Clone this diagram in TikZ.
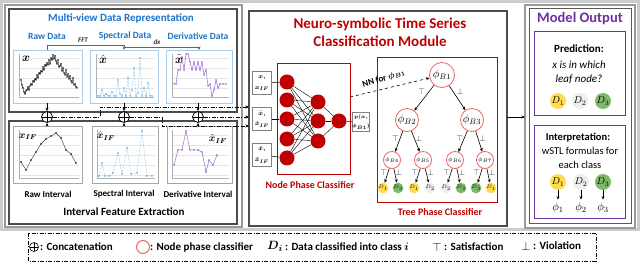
\documentclass[tikz,border=0pt]{standalone}
\usepackage{fontspec}
\setmainfont{Carlito}
\usepackage{amsmath}
\usepackage{bm}
\usetikzlibrary{arrows.meta}
\definecolor{mvblue}{RGB}{31,117,200}
\definecolor{mvbluel}{RGB}{170,205,235}
\definecolor{specblue}{RGB}{90,170,225}
\definecolor{derpurple}{RGB}{160,110,210}
\definecolor{dred}{RGB}{192,0,0}
\definecolor{nred}{RGB}{190,0,0}
\definecolor{tred}{RGB}{240,100,100}
\definecolor{mpurple}{RGB}{112,48,160}
\definecolor{dyellow}{RGB}{255,220,80}
\definecolor{dgreen}{RGB}{125,185,105}
\definecolor{dgray}{RGB}{238,238,238}
\begin{document}
\begin{tikzpicture}[x=1pt,y=-1pt,
  panel/.style={draw=black!70, line width=1.3pt},
  chartbox/.style={draw=mvbluel, line width=0.7pt, fill=white},
  ichartbox/.style={draw=black!35, line width=0.8pt, fill=white},
  grid/.style={draw=black!10, line width=0.3pt},
  concat/.style={circle, draw, line width=0.8pt, minimum size=11pt, inner sep=0pt,
    path picture={\draw[line width=0.8pt] (path picture bounding box.north) -- (path picture bounding box.south)
      (path picture bounding box.west) -- (path picture bounding box.east);}},
  dd/.style={line width=0.7pt, dash pattern=on 4pt off 1.5pt on 1pt off 1.5pt},
  arr/.style={-{Stealth[length=3.5pt,width=3pt]}},
  neuron/.style={circle, fill=nred, minimum size=15pt, inner sep=0pt},
  inbox/.style={draw=black!50, line width=0.6pt, fill=white, minimum width=19pt, minimum height=23pt, inner sep=0pt},
  intext/.style={font=\fontsize{6.5}{7}\selectfont, inner sep=0pt},
  tnode/.style={circle, draw=tred, line width=0.8pt, fill=white, inner sep=0pt},
  leaf/.style={circle, minimum size=9pt, inner sep=0pt, font=\fontsize{5}{5}\selectfont},
  lab/.style={font=\fontsize{8}{8}\selectfont, text=black!80, inner sep=1pt},
  blueh/.style={text=mvblue, font=\bfseries\fontsize{9.5}{10}\selectfont},
  ilabel/.style={font=\bfseries\fontsize{9}{10}\selectfont},
  legt/.style={font=\bfseries\fontsize{11}{12}\selectfont, anchor=west, inner sep=1pt}
]
\useasboundingbox (0,0) rectangle (640,264);
\fill[white] (0,0) rectangle (640,264);
% frames
\draw[black!20, line width=2.5pt] (1.5,1.5) rectangle (638.5,229.5);
\draw[black!40, line width=1.2pt] (5,5) rectangle (242,227);
\draw[panel] (9,9) rectangle (237,112);
\draw[panel] (9,121) rectangle (237,224);
\draw[panel] (249,11) rectangle (507,226);
\draw[black!40, line width=1.5pt] (525,5) rectangle (635,228);
\draw[black!65, line width=1pt] (529,9) rectangle (631,224);

% ---------- Multi-view ----------
\node[text=mvblue, font=\bfseries\fontsize{11}{12}\selectfont] (mvt) at (121,19) {Multi-view Data Representation};
\node[blueh] (rawt) at (47,36) {Raw Data};
\node[blueh] (spt) at (125,36) {Spectral Data};
\node[blueh] (dert) at (198,36) {Derivative Data};
\node[font=\itshape\bfseries\fontsize{7}{7}\selectfont, text=black!80] (fft) at (83,40) {FFT};
\node[font=\itshape\bfseries\fontsize{7}{7}\selectfont, text=black!80] (dxl) at (157,42) {dx};

% charts
\draw[chartbox] (13,50) rectangle (82,103);
\draw[chartbox] (90,50) rectangle (158,103);
\draw[chartbox] (166,50) rectangle (232,103);
\coordinate (rawtop) at (47,50);
\coordinate (sptop) at (124,50);
\coordinate (dertop) at (199,50);
\draw[black!60, line width=0.6pt] (47,50) -- (47,45) -- (124,45);
\draw[black!60, line width=0.6pt, arr] (124,45) -- (sptop);
\draw[black!60, line width=0.6pt] (125,47) -- (199,47);
\draw[black!60, line width=0.6pt, arr] (199,47) -- (dertop);

\foreach \y in {58,68,78,88} {\draw[grid] (19,\y) -- (79,\y); \draw[grid] (96,\y) -- (154,\y); \draw[grid] (172,\y) -- (229,\y);}
\draw[black!30, line width=0.3pt] (19,54) -- (19,97) -- (79,97);
\draw[black!30, line width=0.3pt] (96,54) -- (96,97) -- (154,97);
\draw[black!30, line width=0.3pt] (172,54) -- (172,97) -- (229,97);
\draw[black, line width=0.35pt, mark=*, mark size=0.5pt] plot coordinates {(21,80)(22,85)(23,88)(24,92)(25,94)(26,91)(27,90)(28,87)(29,90)(30,86)(31,84)(32,85)(33,81)(34,82)(35,79)(36,80)(37,75)(38,78)(39,73)(40,74)(41,71)(42,72)(43,67)(44,70)(45,65)(46,66)(47,63)(48,65)(49,60)(50,64)(51,58)(52,60)(53,55)(54,59)(55,56)(56,61)(57,64)(58,60)(59,67)(60,66)(61,64)(62,71)(63,68)(64,73)(65,75)(66,70)(67,77)(68,74)(69,79)(70,76)(71,81)(72,83)(73,78)(74,85)(75,84)(76,87)(77,88)};
\draw[specblue, line width=0.5pt, densely dotted, mark=*, mark size=0.4pt, mark options={solid}] plot coordinates {(98,96)(100,96)(102,90)(104,96)(106,94)(108,96)(110,96)(112,92)(114,96)(116,96)(118,80)(120,94)(122,96)(124,88)(126,96)(128,78)(130,96)(132,90)(134,68)(136,96)(138,93)(140,58)(142,96)(144,88)(146,96)(148,83)(150,96)(152,96)};
\draw[derpurple, line width=0.5pt, mark=*, mark size=0.4pt] plot coordinates {(174,84)(176,84)(178,70)(180,70)(182,57)(184,70)(186,54)(188,54)(190,62)(192,70)(194,62)(196,70)(198,62)(200,70)(202,62)(204,75)(206,70)(208,86)(210,84)(212,96)(214,90)(216,80)(218,88)(220,84)(223,84)(226,84)};
\node[font=\fontsize{13}{13}\selectfont] (xl) at (26,59) {$\bm{x}$};
\node[font=\fontsize{13}{13}\selectfont] (xhl) at (103,59) {$\bm{\hat{x}}$};
\node[font=\fontsize{13}{13}\selectfont] (xtl) at (179,59) {$\bm{\tilde{x}}$};

% ---------- Interval ----------
\draw[ichartbox] (13,126) rectangle (82,183);
\draw[ichartbox] (92,126) rectangle (158,183);
\draw[ichartbox] (167,126) rectangle (232,183);
\foreach \y in {135,145,155,165,175} {\draw[grid] (19,\y) -- (79,\y); \draw[grid] (97,\y) -- (155,\y); \draw[grid] (172,\y) -- (229,\y);}
\draw[black!30, line width=0.3pt] (19,130) -- (19,178) -- (79,178);
\draw[black!30, line width=0.3pt] (97,130) -- (97,178) -- (155,178);
\draw[black!30, line width=0.3pt] (172,130) -- (172,178) -- (229,178);
\draw[black!80, line width=0.4pt, mark=*, mark size=0.6pt] plot coordinates {(21,162)(26,170)(31,160)(36,152)(41,144)(46,139)(51,136)(56,133)(61,138)(66,150)(71,154)(76,163)};
\draw[specblue, line width=0.5pt, densely dotted, mark=*, mark size=0.5pt, mark options={solid}] plot coordinates {(99,176)(102,163)(105,176)(109,176)(113,173)(118,153)(122,174)(127,148)(131,174)(137,173)(142,131)(147,176)(152,176)};
\draw[derpurple, line width=0.5pt, mark=*, mark size=0.5pt] plot coordinates {(174,165)(178,150)(182,150)(186,131)(190,150)(194,150)(198,150)(202,152)(206,172)(209,160)(213,165)(217,155)};
\node[font=\fontsize{10}{10}\selectfont] (xif) at (28,137) {$\bm{x_{IF}}$};
\node[font=\fontsize{10}{10}\selectfont] (xhif) at (106,136) {$\bm{\hat{x}_{IF}}$};
\node[font=\fontsize{10}{10}\selectfont] (xtif) at (218,139) {$\bm{\tilde{x}_{IF}}$};
\node[ilabel] (rit) at (48,194) {Raw Interval};
\node[ilabel] (sit) at (124,194) {Spectral Interval};
\node[ilabel] (dit) at (198,194) {Derivative Interval};
\node[font=\bfseries\fontsize{11}{12}\selectfont] (ifet) at (124,212) {Interval Feature Extraction};

% ---------- concatenation ----------
\node[concat, fill=white] (c1) at (47,117) {};
\node[concat, fill=white] (c2) at (124,117) {};
\node[concat, fill=white] (c3) at (198,117) {};
\draw[arr, line width=0.6pt] (47,103) -- (c1);
\draw[arr, line width=0.6pt] (124,103) -- (c2);
\draw[arr, line width=0.6pt] (198,103) -- (c3);
\draw[arr, line width=0.6pt] (47,126) -- (c1);
\draw[arr, line width=0.6pt] (124,126) -- (c2);
\draw[arr, line width=0.6pt] (198,126) -- (c3);
\coordinate (in1) at (249,107);
\coordinate (in2) at (249,117);
\coordinate (in3) at (249,126);
\draw[dd, arr] (c1) -- (100,117) -- (100,107) -- (in1);
\draw[dd, arr] (c3) -- (in2);
\draw[dd, arr] (c2) -- (162,117) -- (162,126) -- (in3);

% ---------- Middle ----------
\node[text=dred, font=\bfseries\fontsize{15}{18}\selectfont, align=center] (mt) at (380,32) {Neuro-symbolic Time Series\\Classification Module};
\draw[dred, line width=0.8pt] (277,63) rectangle (350,174);
\node[text=dred, font=\bfseries\fontsize{10}{11}\selectfont] (npc) at (310,185) {Node Phase Classifier};
\node[inbox] (ib1) at (262,83) {};
\node[intext] (ib1a) at (262,78) {$\bm{x,}$};
\node[intext] (ib1b) at (262,88.5) {$\bm{x_{IF}}$};
\node[inbox] (ib2) at (262,119) {};
\node[intext] (ib2a) at (262,113.5) {$\bm{\hat{x},}$};
\node[intext] (ib2b) at (262,124.5) {$\bm{\hat{x}_{IF}}$};
\node[inbox] (ib3) at (262,155) {};
\node[intext] (ib3a) at (262,149.5) {$\bm{\tilde{x},}$};
\node[intext] (ib3b) at (262,160.5) {$\bm{\tilde{x}_{IF}}$};
\node[neuron] (n11) at (287,82) {};
\node[neuron] (n12) at (287,100) {};
\node[neuron] (n13) at (287,119) {};
\node[neuron] (n14) at (287,139) {};
\node[neuron] (n15) at (287,158) {};
\node[neuron] (n21) at (318,102) {};
\node[neuron] (n22) at (318,121) {};
\node[neuron] (n23) at (318,141) {};
\node[neuron] (n31) at (339,121) {};
\foreach \i in {1,...,5} {\foreach \j in {1,2,3} {\draw[line width=0.4pt] (n1\i) -- (n2\j);}}
\foreach \j in {1,2,3} {\draw[line width=0.4pt] (n2\j) -- (n31);}
\draw[line width=0.5pt] (ib1) -- (n11);
\draw[line width=0.5pt] (ib2) -- (n13);
\draw[line width=0.5pt] (ib3) -- (n15);
\node[inbox, minimum width=17pt, minimum height=19pt] (ob) at (361,122) {};
\node[intext, font=\fontsize{5.5}{6}\selectfont] (oba) at (361,117.5) {$\bm{p(x,}$};
\node[intext, font=\fontsize{5.5}{6}\selectfont] (obb) at (361,126.5) {$\bm{\phi_{B1})}$};
\draw[line width=0.5pt] (n31) -- (ob);

% tree
\draw[dred, line width=0.8pt] (377,57) rectangle (497,202);
\node[text=dred, font=\bfseries\fontsize{10}{11}\selectfont] (tpc) at (440,212) {Tree Phase Classifier};
\node[tnode, minimum size=25pt, font=\fontsize{11}{11}\selectfont] (B1) at (442,75) {$\phi_{B1}$};
\node[tnode, minimum size=23pt, font=\fontsize{11}{11}\selectfont] (B2) at (407,120) {$\phi_{B2}$};
\node[tnode, minimum size=23pt, font=\fontsize{11}{11}\selectfont] (B3) at (472,120) {$\phi_{B3}$};
\node[tnode, minimum size=17pt, font=\fontsize{6.5}{7}\selectfont] (B4) at (392,160) {$\phi_{B4}$};
\node[tnode, minimum size=17pt, font=\fontsize{6.5}{7}\selectfont] (B5) at (423,160) {$\phi_{B5}$};
\node[tnode, minimum size=17pt, font=\fontsize{6.5}{7}\selectfont] (B6) at (455,160) {$\phi_{B6}$};
\node[tnode, minimum size=17pt, font=\fontsize{6.5}{7}\selectfont] (B7) at (485,160) {$\phi_{B7}$};
\node[leaf, fill=dyellow] (L1) at (383,188) {$D_1$};
\node[leaf, fill=dgreen] (L2) at (398,188) {$D_3$};
\node[leaf, fill=dyellow] (L3) at (414,188) {$D_1$};
\node[leaf, fill=dgray] (L4) at (430,188) {$D_2$};
\node[leaf, fill=dgray] (L5) at (446,188) {$D_2$};
\node[leaf, fill=dgreen] (L6) at (461,188) {$D_3$};
\node[leaf, fill=dgreen] (L7) at (476,188) {$D_3$};
\node[leaf, fill=dyellow] (L8) at (491,188) {$D_1$};
\draw[arr, line width=0.6pt] (B1) -- (B2) node[lab, pos=0.4, above left] {$\top$};
\draw[arr, line width=0.6pt] (B1) -- (B3) node[lab, pos=0.4, above right] {$\bot$};
\draw[arr, line width=0.6pt] (B2) -- (B4) node[lab, pos=0.35, left] {$\top$};
\draw[arr, line width=0.6pt] (B2) -- (B5) node[lab, pos=0.35, right] {$\bot$};
\draw[arr, line width=0.6pt] (B3) -- (B6) node[lab, pos=0.35, left] {$\top$};
\draw[arr, line width=0.6pt] (B3) -- (B7) node[lab, pos=0.35, right] {$\bot$};
\foreach \p/\a/\b in {B4/L1/L2, B5/L3/L4, B6/L5/L6, B7/L7/L8} {
  \draw[arr, line width=0.6pt] (\p) -- (\a) node[lab, pos=0.3, left, inner sep=0.5pt] {$\top$};
  \draw[arr, line width=0.6pt] (\p) -- (\b) node[lab, pos=0.3, right, inner sep=0.5pt] {$\bot$};
}
\draw[dashed, line width=0.6pt, arr] (350,97) -- (B1);
\node[rotate=17, font=\bfseries\fontsize{9}{9}\selectfont] (nnf) at (384,79) {NN for $\bm{\phi_{B1}}$};

% ---------- Right ----------
\coordinate (rin) at (525,117);
\draw[arr, line width=0.6pt] (507,117) -- (rin);
\node[text=mpurple, font=\bfseries\fontsize{14.5}{15}\selectfont] (mot) at (580,19) {Model Output};
\draw[mpurple, line width=0.8pt] (534,31) rectangle (625,115);
\node[font=\bfseries\fontsize{11}{12}\selectfont] (pred) at (579,49) {Prediction:};
\node[font=\itshape\fontsize{11}{14}\selectfont, align=center] (predt) at (579,72) {x is in which\\leaf node?};
\node[circle, fill=dyellow, minimum size=16pt, inner sep=0pt, font=\fontsize{10}{10}\selectfont] (p1) at (558,101) {$D_1$};
\node[circle, fill=dgray, minimum size=16pt, inner sep=0pt, font=\fontsize{10}{10}\selectfont] (p2) at (580,101) {$D_2$};
\node[circle, fill=dgreen, minimum size=16pt, inner sep=0pt, font=\fontsize{10}{10}\selectfont] (p3) at (603,101) {$D_3$};
\draw[mpurple, line width=0.8pt] (534,125) rectangle (625,218);
\node[font=\bfseries\fontsize{10.5}{11}\selectfont] (interp) at (578,138) {Interpretation:};
\node[font=\fontsize{10.5}{14}\selectfont, align=center] (interpt) at (580,158) {wSTL formulas for\\each class};
\node[circle, fill=dyellow, minimum size=16pt, inner sep=0pt, font=\fontsize{10}{10}\selectfont] (q1) at (558,182) {$D_1$};
\node[circle, fill=dgray, minimum size=16pt, inner sep=0pt, font=\fontsize{10}{10}\selectfont] (q2) at (581,182) {$D_2$};
\node[circle, fill=dgreen, minimum size=16pt, inner sep=0pt, font=\fontsize{10}{10}\selectfont] (q3) at (603,182) {$D_3$};
\node[font=\fontsize{11}{11}\selectfont] (f1) at (558,208) {$\phi_1$};
\node[font=\fontsize{11}{11}\selectfont] (f2) at (581,208) {$\phi_2$};
\node[font=\fontsize{11}{11}\selectfont] (f3) at (603,208) {$\phi_3$};
\draw[arr, line width=0.6pt] (q1) -- (f1);
\draw[arr, line width=0.6pt] (q2) -- (f2);
\draw[arr, line width=0.6pt] (q3) -- (f3);

% ---------- Legend ----------
\draw[dd] (28,233) rectangle (596,261);
\node[concat, minimum size=9pt, line width=0.6pt] (lc) at (34,247) {};
\node[legt] (lct) at (39,247) {: Concatenation};
\node[circle, draw=tred, line width=1pt, minimum size=13pt, inner sep=0pt] (lnc) at (143,247) {};
\node[legt] (lnct) at (149,247) {: Node phase classifier};
\node[font=\fontsize{13}{13}\selectfont] (ld) at (275,246) {$\bm{D_i}$};
\node[legt] (ldt) at (284,247) {: Data classified into class $\bm{i}$};
\node[font=\fontsize{13}{13}\selectfont] (lt) at (437,247) {$\top$};
\node[legt] (ltt) at (443,247) {: Satisfaction};
\node[font=\fontsize{13}{13}\selectfont] (lb) at (526,246) {$\bot$};
\node[legt] (lbt) at (532,246) {: Violation};
\end{tikzpicture}
\end{document}
